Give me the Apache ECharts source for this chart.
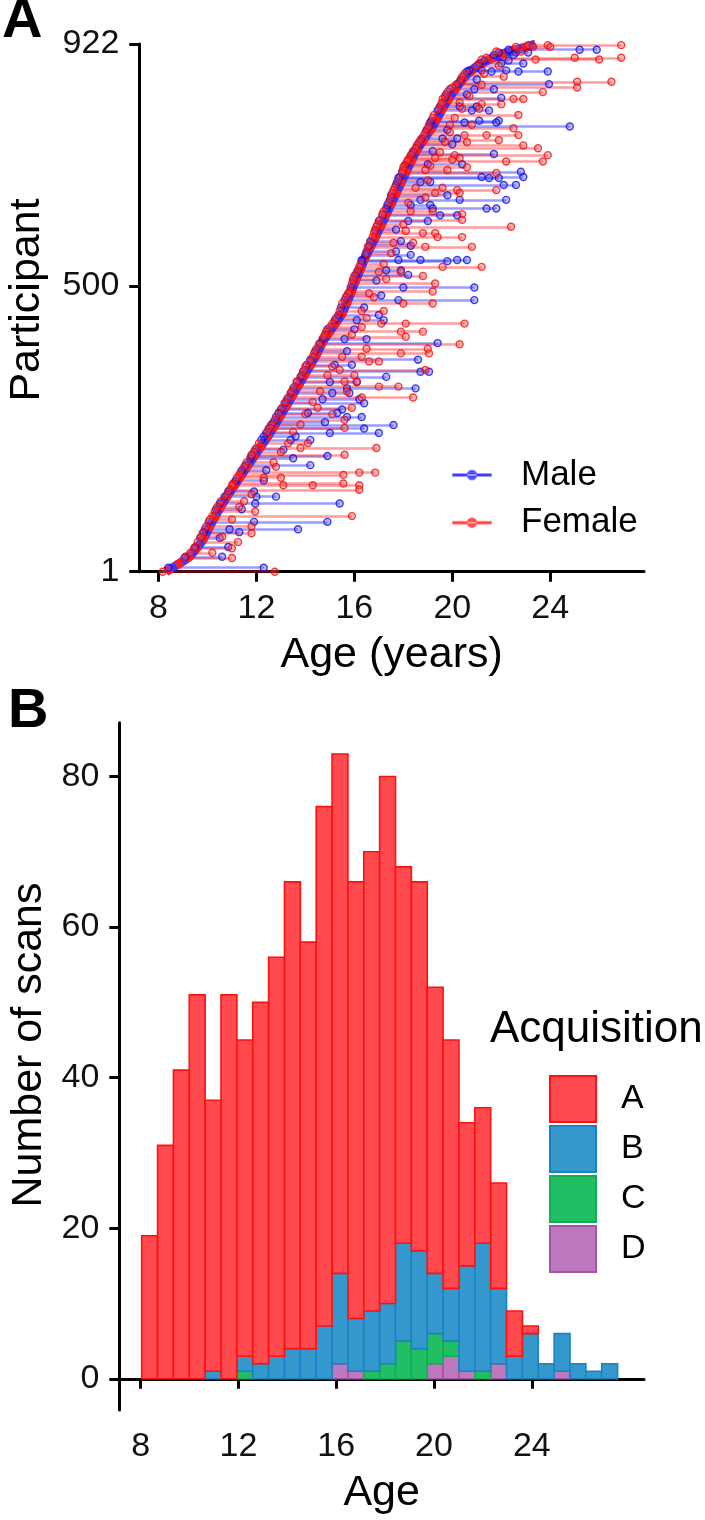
<!DOCTYPE html>
<html><head><meta charset="utf-8">
<script src="https://cdn.jsdelivr.net/npm/echarts@6/dist/echarts.min.js"></script>
<style>html,body{margin:0;padding:0;background:#fff}#c{width:705px;height:1520px}</style>
</head><body><div id="c"></div>
<script>
// ---------- Panel A data ----------
// baseline (first scan) age curve, participants sorted by baseline age
const curveRank = [1, 27, 56, 85, 126, 161, 202, 243, 289, 336, 376, 405, 452, 498, 545, 580, 620, 661, 696, 737, 778, 813, 848, 871, 888, 903, 911, 917, 922];
const curveAge  = [8.3, 9.25, 9.8, 10.15, 10.7, 11.25, 11.9, 12.55, 13.2, 13.85, 14.4, 14.75, 15.5, 15.95, 16.4, 16.8, 17.25, 17.7, 18.08, 18.55, 19.2, 19.65, 20.2, 20.65, 21.2, 21.95, 22.5, 23.05, 23.4];
// longitudinal participants: [participant, age1, age2, ...]
const maleRows = [
 [912,22.3,25.2,25.9],[907,21.9,22.6,23.1],[903,21.7,22.5],[893,21.3,22.3],[888,21.1,22.0,22.9],[876,20.7,21.2,22.2],
 [874,20.6,21.6,22.7,23.9],[860,20.35,21.0],[852,20.2,23.95],[843,19.9,20.9,21.7],[834,19.75,20.6],[828,19.7,22.0],
 [813,19.5,20.3,21.0],[806,19.4,20.8,21.5],[788,19.15,21.1,21.9],[785,19.1,20.5,21.8],[778,19.05,24.8],[772,18.95,19.8],
 [757,18.75,19.6,20.2],[747,18.6,20.0],[735,18.4,19.2],[730,18.35,21.7],[712,18.1,19.0,20.4],[699,17.95,22.8],
 [690,17.85,21.2,22.9],[688,17.8,21.5,21.9],[681,17.75,18.7,19.1],[676,17.7,22.1,22.6],[658,17.5,19.8],
 [650,17.45,18.7,20.3,22.2],[641,17.35,18.3,19.1],[635,17.3,19.2,21.4,21.8],[623,17.15,19.5,20.2],[613,17.0,18.2,19.0],
 [598,16.85,17.7],[578,16.65,17.9],[570,16.6,18.3],[560,16.5,17.7],[554,16.45,18.3],[545,16.3,17.8,18.7,20.2,20.6],
 [543,16.3,19.8],[527,16.15,17.3,17.9],[519,16.05,18.2],[509,15.95,16.9],[497,15.85,18.0,20.9],[483,15.7,17.1],
 [475,15.6,17.8,20.9],[462,15.45,16.4],[449,15.35,17.0],[440,15.2,16.1,17.2],[424,14.9,16.0],[407,14.7,15.6,16.5],
 [400,14.6,19.4],[386,14.4,15.7],[371,14.2,18.6],[362,14.05,15.2,15.9],[350,13.9,18.7,19.05],[341,13.8,17.3],
 [332,13.65,15.0,16.1],[321,13.5,15.7,18.5],[313,13.4,15.1,15.8],[302,13.25,14.7,16.2],[295,13.15,16.4],[284,13.0,15.5],
 [278,12.9,14.1,15.3],[271,12.8,15.7,16.3],[262,12.7,14.8],[257,12.6,17.6],[251,12.5,16.4],[243,12.4,15.0,17.0],
 [237,12.3,13.6],[231,12.2,13.4,14.2],[214,11.95,13.1],[203,11.8,14.9],[199,11.75,13.5],[187,11.55,14.2],[178,11.4,12.4],
 [160,11.15,12.3],[141,10.85,11.9],[132,10.7,12.0,12.8],[120,10.5,11.95,15.4],[110,10.35,11.4],[88,10.05,11.9,14.9],
 [75,9.9,10.9,13.7],[70,9.85,11.3],[60,9.7,10.5],[44,9.5,10.85],[27,9.1,10.6],[8,8.4,12.3]
];
const femaleRows = [
 [920,23.1,23.9,26.9],[917,22.6,23.3,24.0],[909,21.8,22.8],[898,21.4,25.0,26.9],[895,21.2,23.4,26.0],[884,21.0,21.9],
 [870,20.5,21.3],[865,20.4,22.1],[856,20.3,25.1,26.5],[851,20.15,21.2],[846,20.0,25.1],[838,19.8,23.7],[831,19.7,20.7],
 [826,19.6,22.5,22.9],[820,19.6,20.3],[817,19.55,21.2,22.0],[809,19.45,20.4,21.1],[798,19.25,22.7],[793,19.2,20.1],
 [781,19.05,19.9,20.8],[775,19.0,22.5],[768,18.9,19.9],[763,18.85,20.5,21.4,22.7],[754,18.7,21.9],[751,18.65,19.7,20.6],
 [745,18.55,22.9],[740,18.5,23.5],[733,18.4,19.5],[728,18.3,20.1,23.9],[723,18.25,19.3,20.3],[720,18.2,20.0],
 [717,18.15,22.2,23.7],[710,18.05,19.1],[707,18.0,20.6],[702,18.0,18.9,19.8],[697,17.95,21.8],[684,17.8,19.0],
 [671,17.65,18.5,19.6],[667,17.6,20.2,21.8],[662,17.55,19.3,20.3],[654,17.5,18.9],[645,17.4,18.2],[630,17.2,18.3,19.2],
 [625,17.15,20.4],[615,17.05,20.4],[607,16.95,18.0],[603,16.9,22.4],[596,16.85,18.1],[592,16.8,18.8,19.3],
 [585,16.75,19.4,20.4],[575,16.65,17.6,18.4],[568,16.55,18.9,20.8],[557,16.5,17.5],[538,16.25,17.2],[533,16.2,19.6,21.2],
 [524,16.1,17.0,17.9],[517,16.0,18.8],[512,15.95,17.3],[504,15.9,19.3],[490,15.8,19.2],[487,15.75,16.6],[480,15.65,16.8],
 [469,15.5,18.0,19.2],[456,15.4,16.3,17.2],[444,15.25,16.5],[434,15.1,17.1,18.1,20.5],[428,15.0,16.3],[420,14.85,17.9,18.8],
 [415,14.8,15.9],[411,14.75,18.1],[398,14.55,20.3],[390,14.45,16.5,19.0],[382,14.35,17.9,19.05],[376,14.3,15.5,16.3],
 [368,14.2,16.6,17.0],[359,14.0,15.1],[353,13.95,15.4,18.9],[344,13.85,14.9,16.0],[333,13.65,15.6,16.1],
 [324,13.55,17.0,17.8],[316,13.45,14.6,15.7],[305,13.3,16.3,18.4],[297,13.2,14.3],[287,13.05,14.5,15.9],
 [276,12.9,14.0,15.1],[266,12.75,15.6],[258,12.65,13.8],[252,12.55,15.6],[245,12.45,13.5],[225,12.1,13.3,14.1],
 [217,12.0,13.8,16.9],[210,11.9,13.0],[205,11.8,15.6],[192,11.6,12.7],[184,11.5,12.8],[174,11.35,16.2,16.85],
 [170,11.3,15.55],[165,11.2,12.3,13.0],[155,11.05,15.55],[152,11.0,13.1,14.3,16.2],[144,10.9,16.2],[136,10.8,11.8],
 [124,10.55,11.5],[114,10.4,11.3],[106,10.3,11.95],[98,10.2,15.9],[92,10.1,11.0],[80,9.95,11.8],[68,9.8,11.8],
 [62,9.75,10.6],[53,9.6,11.25],[42,9.45,11.0],[34,9.3,10.2],[25,9.05,11.0],[1,8.17,12.75]
];
const ageTicks = [8, 12, 16, 20, 24];
const participantTicks = [1, 500, 922];

// ---------- Panel B data (histogram, 30 bins) ----------
const BIN_START = 8.04, BIN_WIDTH = 0.649;
const acqNames = ['A', 'B', 'C', 'D'];
const acqA = [19,31,41,51,36,51,42,48,53,62,54,69,69,58,61,70,50,49,38,33,19,18,14,6,1,0,0,0,0,0];
const acqB = [0,0,0,0,1,0,2,2,3,4,4,7,12,7,8,8,13,13,8,7,14,17,10,3,6,2,5,2,1,2];
const acqC = [0,0,0,0,0,0,1,0,0,0,0,0,0,0,1,2,5,4,4,2,0,1,0,0,0,0,0,0,0,0];
const acqD = [0,0,0,0,0,0,0,0,0,0,0,0,2,1,0,0,0,0,2,3,1,0,2,0,0,0,1,0,0,0];
const scanTicks = [0, 20, 40, 60, 80];

const FONT = 'Liberation Sans, Arial, Helvetica, sans-serif';
const blueLine = 'rgba(20,20,255,0.42)', redLine = 'rgba(255,20,20,0.42)';
const blueDot = 'rgba(80,80,255,0.5)', redDot = 'rgba(255,80,80,0.5)';

function segs(rows){ return rows.map(r => ({coords: [[r[1], r[0]], [r[r.length-1], r[0]]]})); }
function dots(rows){ const o=[]; rows.forEach(r => { for (let k=1;k<r.length;k++) o.push([r[k], r[0]]); }); return o; }

const fills = {A:'#FF4A50', B:'#3598CC', C:'#22BE64', D:'#BE78BE'};
const strokes = {A:'#FF1010', B:'#1A82C4', C:'#12AE52', D:'#A852A8'};
const stackOrder = [['D', acqD], ['C', acqC], ['B', acqB], ['A', acqA]];
const bases = acqA.map(() => 0);
const histSeries = [];
stackOrder.forEach(([nm, arr]) => {
  const data = arr.map((v, i) => [i, bases[i], v]);
  arr.forEach((v, i) => bases[i] += v);
  histSeries.push({
    type: 'custom', name: nm, xAxisIndex: 1, yAxisIndex: 1, silent: true,
    itemStyle: {color: fills[nm], borderColor: strokes[nm]},
    data: data,
    renderItem: function(params, api){
      const i = api.value(0), y0 = api.value(1), v = api.value(2);
      if (!v) return null;
      const p0 = api.coord([BIN_START + i*BIN_WIDTH, y0]);
      const p1 = api.coord([BIN_START + (i+1)*BIN_WIDTH, y0 + v]);
      return {type:'rect', shape:{x:p0[0], y:p1[1], width:p1[0]-p0[0], height:p0[1]-p1[1]},
              style:{fill: fills[nm], stroke: strokes[nm], lineWidth: 1.6}};
    }
  });
});

const axisCommon = {
  axisLine: {show: true, lineStyle: {color: '#000', width: 3}},
  axisTick: {show: true, length: 10, lineStyle: {color: '#000', width: 3}},
  splitLine: {show: false},
  axisLabel: {color: '#111', fontSize: 34, fontFamily: FONT},
  nameTextStyle: {color: '#000', fontSize: 43, fontFamily: FONT},
  nameLocation: 'middle'
};
const lineIcon = 'path://M0,3.5h38v2h-38z M19,0a4.5,4.5 0 1 0 0.001,0z';

const option = {
  animation: false,
  backgroundColor: '#fff',
  grid: [
    {left: 139.3, right: 61, top: 44, height: 527.7},
    {left: 119.3, right: 61, top: 722.7, height: 687.3}
  ],
  xAxis: [
    Object.assign({}, axisCommon, {gridIndex: 0, type: 'value', min: 7.216, max: 27.83, name: 'Age (years)', nameGap: 62,
      axisTick: Object.assign({}, axisCommon.axisTick, {customValues: ageTicks}),
      axisLabel: Object.assign({}, axisCommon.axisLabel, {customValues: ageTicks, margin: 20})}),
    Object.assign({}, axisCommon, {gridIndex: 1, type: 'value', min: 7.124, max: 28.59, name: 'Age', nameGap: 62,
      axisTick: Object.assign({}, axisCommon.axisTick, {customValues: ageTicks}),
      axisLabel: Object.assign({}, axisCommon.axisLabel, {customValues: ageTicks, margin: 20})})
  ],
  yAxis: [
    Object.assign({}, axisCommon, {gridIndex: 0, type: 'value', min: 1, max: 922,
      axisTick: Object.assign({}, axisCommon.axisTick, {customValues: participantTicks}),
      axisLabel: Object.assign({}, axisCommon.axisLabel, {customValues: participantTicks, margin: 20})}),
    Object.assign({}, axisCommon, {gridIndex: 1, type: 'value', min: -4.15, max: 87.15,
      axisTick: Object.assign({}, axisCommon.axisTick, {customValues: scanTicks}),
      axisLabel: Object.assign({}, axisCommon.axisLabel, {customValues: scanTicks, margin: 20})})
  ],
  legend: [
    {orient: 'vertical', left: 452, top: 455, itemWidth: 38, itemHeight: 9, itemGap: 7.7, padding: 0,
     textStyle: {fontSize: 35, fontFamily: FONT, color: '#000', lineHeight: 40, padding: [0,0,0,25]},
     data: [
       {name: 'Male', icon: lineIcon, itemStyle: {color: 'rgba(40,40,255,0.75)'}},
       {name: 'Female', icon: lineIcon, itemStyle: {color: 'rgba(255,40,40,0.75)'}}
     ]},
    {orient: 'vertical', left: 549, top: 1075, itemWidth: 46, itemHeight: 46, itemGap: 2, padding: 0,
     textStyle: {fontSize: 34, fontFamily: FONT, color: '#000', padding: [0,0,0,20]},
     data: acqNames.map(n => ({name: n, icon: 'rect', itemStyle: {color: fills[n], borderColor: strokes[n], borderWidth: 2}}))}
  ],
  graphic: [
    {type: 'text', left: 2, top: -6, style: {text: 'A', font: 'bold 56px ' + FONT, fill: '#000'}},
    {type: 'text', left: 8, top: 684, style: {text: 'B', font: 'bold 56px ' + FONT, fill: '#000'}},
    {type: 'text', left: 490, top: 1008, style: {text: 'Acquisition', font: '44px ' + FONT, fill: '#000'}},
    {type: 'text', x: 27, y: 300, rotation: Math.PI / 2,
     style: {text: 'Participant', font: '43px ' + FONT, fill: '#000', align: 'center', verticalAlign: 'middle'}},
    {type: 'text', x: 29, y: 1045, rotation: Math.PI / 2,
     style: {text: 'Number of scans', font: '43px ' + FONT, fill: '#000', align: 'center', verticalAlign: 'middle'}}
  ],
  series: [
    {type: 'lines', name: 'Male', coordinateSystem: 'cartesian2d', xAxisIndex: 0, yAxisIndex: 0, silent: true, z: 2,
     lineStyle: {color: blueLine, width: 2.6, opacity: 1}, data: segs(maleRows)},
    {type: 'lines', name: 'Female', coordinateSystem: 'cartesian2d', xAxisIndex: 0, yAxisIndex: 0, silent: true, z: 2,
     lineStyle: {color: redLine, width: 2.6, opacity: 1}, data: segs(femaleRows)},
    {type: 'line', name: 'baselineM', xAxisIndex: 0, yAxisIndex: 0, silent: true, z: 3, showSymbol: false, smooth: 0.2,
     lineStyle: {color: 'rgba(40,40,255,0.9)', width: 9}, data: curveAge.map((a, i) => [a, curveRank[i]])},
    {type: 'line', name: 'baselineF', xAxisIndex: 0, yAxisIndex: 0, silent: true, z: 3, showSymbol: false, smooth: 0.2,
     lineStyle: {color: 'rgba(255,30,30,0.95)', width: 9, type: [7, 5]}, data: curveAge.map((a, i) => [a, curveRank[i]])},
    {type: 'scatter', name: 'Male', xAxisIndex: 0, yAxisIndex: 0, silent: true, z: 4, symbolSize: 7,
     itemStyle: {color: blueDot, borderColor: 'rgba(0,0,220,0.9)', borderWidth: 1.4}, data: dots(maleRows)},
    {type: 'scatter', name: 'Female', xAxisIndex: 0, yAxisIndex: 0, silent: true, z: 4, symbolSize: 7,
     itemStyle: {color: redDot, borderColor: 'rgba(235,0,0,0.9)', borderWidth: 1.4}, data: dots(femaleRows)}
  ].concat(histSeries)
};
const chart = echarts.init(document.getElementById('c'), null, {renderer: 'canvas'});
chart.setOption(option);
</script></body></html>
